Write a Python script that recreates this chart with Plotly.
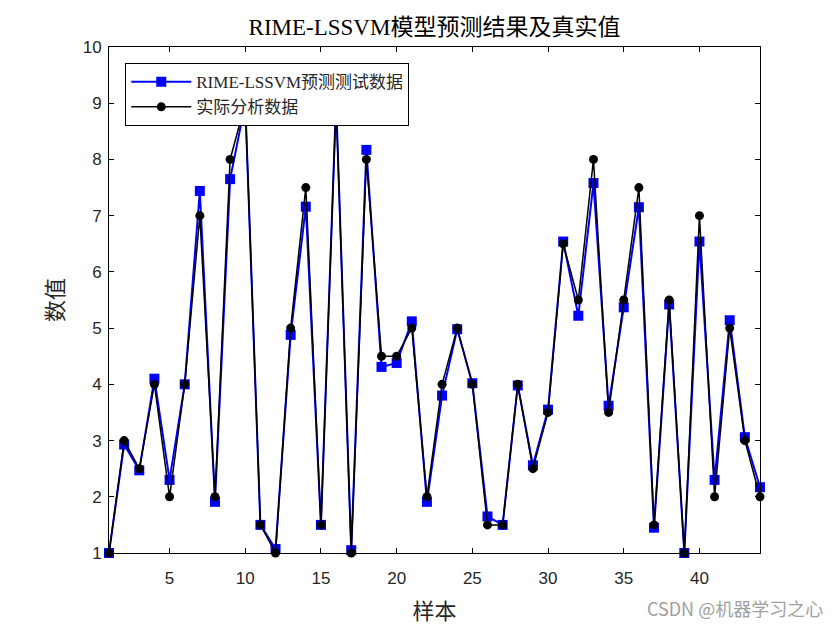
import plotly.graph_objects as go

# data
samples = list(range(1, 45))
pred = [1.0, 2.93, 2.47, 4.10, 2.30, 4.0, 7.44, 1.91, 7.65, 9.0,
        1.5, 1.07, 4.88, 7.16, 1.5, 9.05, 1.05, 8.17, 4.31, 4.38,
        5.12, 1.91, 3.80, 4.98, 4.02, 1.65, 1.5, 3.98, 2.56, 3.55,
        6.54, 5.22, 7.58, 3.62, 5.37, 7.15, 1.45, 5.42, 1.0, 6.54,
        2.30, 5.14, 3.06, 2.17]
actual = [1, 3, 2.5, 4, 2, 4, 7, 2, 8, 9,
          1.5, 1, 5, 7.5, 1.5, 9, 1, 8, 4.5, 4.5,
          5, 2, 4, 5, 4, 1.5, 1.5, 4, 2.5, 3.5,
          6.5, 5.5, 8, 3.5, 5.5, 7.5, 1.5, 5.5, 1, 7,
          2, 5, 3, 2]
xticks = [5, 10, 15, 20, 25, 30, 35, 40]
yticks = [1, 2, 3, 4, 5, 6, 7, 8, 9, 10]

serif = "Liberation Serif, Noto Sans CJK SC, serif"
sans = "Liberation Sans, Arial, sans-serif"

fig = go.Figure()
fig.add_trace(go.Scatter(x=samples, y=pred, mode='lines+markers', name='RIME-LSSVM预测测试数据',
                         line=dict(color='#0000FF', width=2),
                         marker=dict(symbol='square', size=10, color='#0000FF'),
                         cliponaxis=False))
fig.add_trace(go.Scatter(x=samples, y=actual, mode='lines+markers', name='实际分析数据',
                         line=dict(color='black', width=1.5),
                         marker=dict(symbol='circle', size=9, color='black'),
                         cliponaxis=False))

axis_style = dict(showline=True, linecolor='black', linewidth=1, mirror='allticks',
                  ticks='inside', ticklen=5, tickcolor='black', showgrid=False, zeroline=False,
                  tickfont=dict(family=sans, size=17, color='#262626'))
fig.update_xaxes(range=[1, 44], tickvals=xticks, ticklabelstandoff=10, **axis_style,
                 title=dict(text='样本', font=dict(family=serif, size=22, color='#262626'), standoff=16))
fig.update_yaxes(range=[1, 10], tickvals=yticks, ticklabelstandoff=3, **axis_style,
                 title=dict(text='数值', font=dict(family=serif, size=22, color='#262626'), standoff=12))

# page body adds an 8px offset, so margins are shifted by that amount
fig.update_layout(
    width=840, height=630,
    margin=dict(l=101, r=88, t=39, b=85),
    plot_bgcolor='white', paper_bgcolor='white',
    title=dict(text='RIME-LSSVM模型预测结果及真实值', x=0.5, xref='paper', xanchor='center',
               y=0.97, yref='container', yanchor='middle',
               font=dict(family=serif, size=23, color='black')),
    legend=dict(x=0.025, y=0.968, xanchor='left', yanchor='top', bgcolor='white',
                bordercolor='black', borderwidth=1, tracegroupgap=0,
                font=dict(family=serif, size=17, color='#262626'), itemwidth=60),
    annotations=[dict(text='CSDN @机器学习之心', xref='paper', yref='paper', x=1.1, y=-0.109,
                      xanchor='right', yanchor='middle', showarrow=False,
                      font=dict(family='Noto Sans CJK SC, sans-serif', size=18, color='#a0a0a0'))],
)

fig.write_html("out.html")
